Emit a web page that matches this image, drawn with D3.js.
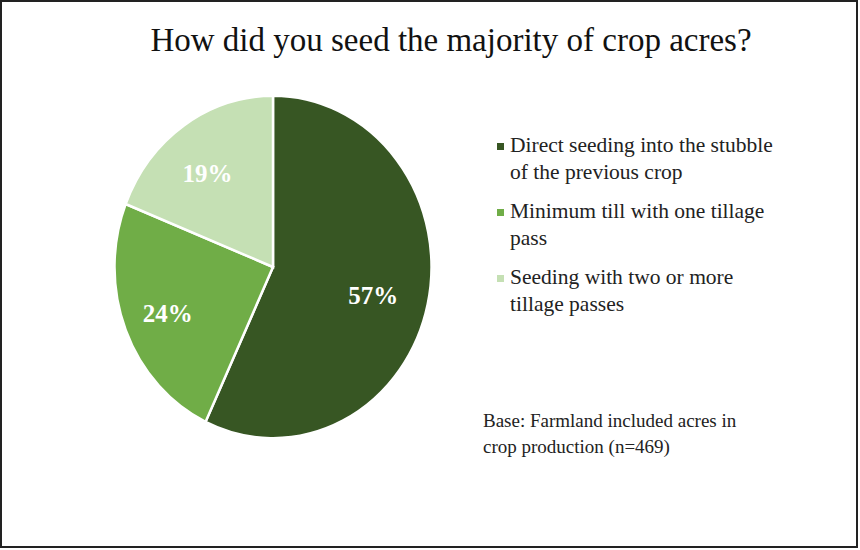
<!DOCTYPE html>
<html lang="en">
<head>
<meta charset="UTF-8">
<title>Crop seeding</title>
<script src="https://d3js.org/d3.v7.min.js"></script>
<style>
  body { margin: 0; background: #fff; }
  text { font-family: "Liberation Serif", "Times New Roman", serif; }
  .slice { stroke: #fff; stroke-width: 2.5; }
  .pct { fill: #fff; font-weight: bold; font-size: 25px; }
  .legend text { font-size: 21.5px; fill: #222; }
  .note { font-size: 19px; fill: #222; }
</style>
</head>
<body>
<script>
// data
var categories = [
  "Direct seeding into the stubble of the previous crop",
  "Minimum till with one tillage pass",
  "Seeding with two or more tillage passes"
];
var values = [57, 24, 19];
var colors = ["#375623", "#70ad47", "#c5e0b4"];
// legend lines (wrapped as in the original)
var legendLines = [
  ["Direct seeding into the stubble", "of the previous crop"],
  ["Minimum till with one tillage", "pass"],
  ["Seeding with two or more", "tillage passes"]
];
var title = "How did you seed the majority of crop acres?";
var noteLines = ["Base: Farmland included acres in", "crop production (n=469)"];

var W = 860, H = 550;
var cx = 273, cy = 267, R = 158.5, squash = 1.08; // picture is a little stretched vertically

var svg = d3.select("body").append("svg")
    .attr("width", W)
    .attr("height", H);

// frame
svg.append("rect")
    .attr("x", 1).attr("y", 1)
    .attr("width", W - 4).attr("height", H - 4)
    .attr("fill", "#fff")
    .attr("stroke", "#222")
    .attr("stroke-width", 2);

svg.append("text")
    .attr("x", 451).attr("y", 51)
    .attr("text-anchor", "middle")
    .style("font-size", "33px")
    .style("fill", "#111")
    .text(title);

var pie = d3.pie().sort(null).value(function(d) { return d; });
var arcs = pie(values);

var arc = d3.arc().innerRadius(0).outerRadius(R);
var labelArc = d3.arc().innerRadius(R * 0.68).outerRadius(R * 0.68);

var g = svg.append("g")
    .attr("transform", "translate(" + cx + "," + cy + ") scale(1," + squash + ")");

g.selectAll(".slice")
    .data(arcs)
  .enter().append("path")
    .attr("class", "slice")
    .attr("d", arc)
    .attr("fill", function(d, i) { return colors[i]; })
    .attr("vector-effect", "non-scaling-stroke");

// percentage labels, not squashed
svg.selectAll(".pct")
    .data(arcs)
  .enter().append("text")
    .attr("class", "pct")
    .attr("text-anchor", "middle")
    .attr("dy", "0.35em")
    .attr("x", function(d) { return cx - 5 + labelArc.centroid(d)[0]; })
    .attr("y", function(d) { return cy + 3 + labelArc.centroid(d)[1] * squash; })
    .text(function(d) { return d.value + "%"; });

// legend
var legend = svg.append("g").attr("class", "legend")
    .attr("transform", "translate(497,0)");

var lineH = 27, itemGap = 12, y0 = 152;
var item = legend.selectAll(".item")
    .data(legendLines)
  .enter().append("g")
    .attr("class", "item")
    .attr("transform", function(d, i) {
      return "translate(0," + (y0 + i * (2 * lineH + itemGap)) + ")";
    });

item.append("rect")
    .attr("x", 0).attr("y", -9)
    .attr("width", 7).attr("height", 7)
    .attr("fill", function(d, i) { return colors[i]; });

item.selectAll("text")
    .data(function(d) { return d; })
  .enter().append("text")
    .attr("x", 13)
    .attr("y", function(d, i) { return i * lineH; })
    .text(function(d) { return d; });

svg.selectAll(".note")
    .data(noteLines)
  .enter().append("text")
    .attr("class", "note")
    .attr("x", 483)
    .attr("y", function(d, i) { return 427 + i * 26; })
    .text(function(d) { return d; });
</script>
</body>
</html>
